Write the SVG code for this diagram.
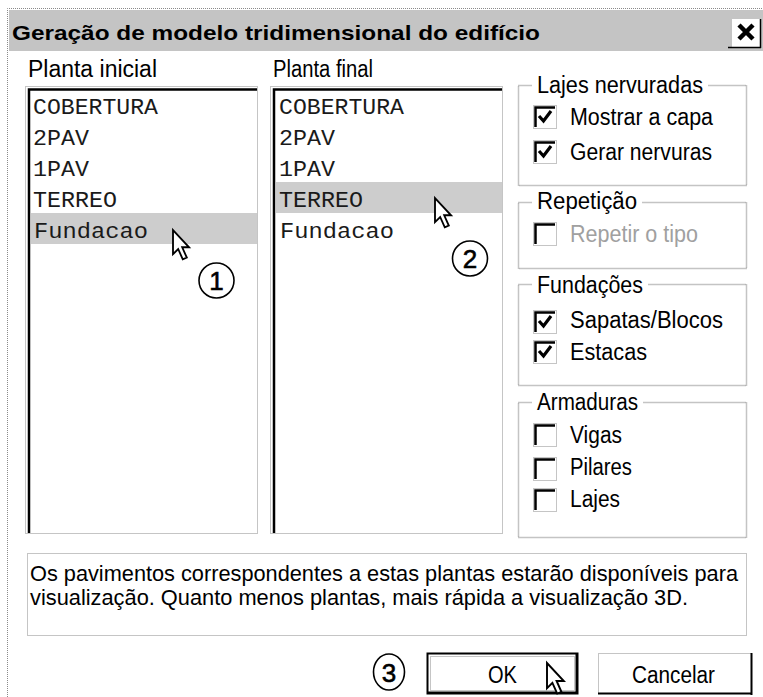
<svg xmlns="http://www.w3.org/2000/svg" width="763" height="697" viewBox="0 0 763 697">
<style>
  .ui { font-family: "Liberation Sans", Arial, sans-serif; font-size: 23px; fill: #000; }
  .desc { font-family: "Liberation Sans", Arial, sans-serif; font-size: 22px; fill: #000; }
  .title { font-family: "Liberation Sans", Arial, sans-serif; font-size: 21px; font-weight: bold; fill: #000; }
  .mono { font-family: "Liberation Mono", "Courier New", monospace; font-size: 22px; fill: #1a1a1a; }
  .dis { fill: #a0a0a0; }
  .dot { fill: none; stroke: #8a8a8a; stroke-width: 1; stroke-dasharray: 1 1; }
  .etch { fill: none; stroke: #8a8a8a; stroke-width: 1.5; stroke-dasharray: 1 1; }
  .sunk { stroke: #000; stroke-width: 2.5; fill: none; }
  .cb { fill: #fff; stroke: #8a8a8a; stroke-width: 1; stroke-dasharray: 1 1; }
  .chk { fill: none; stroke: #000; stroke-width: 3.2; stroke-linejoin: miter; }
  .sel { fill: #cdcdcd; }
  .circ { fill: #fff; stroke: #000; stroke-width: 1.6; }
  .num { font-family: "Liberation Sans", Arial, sans-serif; font-size: 26px; fill: #000; stroke: #000; stroke-width: 0.6; text-anchor: middle; }
  .cur { fill: #fff; stroke: #000; stroke-width: 1.6; stroke-linejoin: miter; }
</style>
<defs>
  <path id="arrow" d="M0,0 L0,21 L4.5,16.5 L8.5,25.5 L12,24 L8,15 L14,15 Z"/>
  <g id="box">
    <rect class="cb" x="0.5" y="0.5" width="23" height="23"/>
    <path class="sunk" d="M2.5,22 L2.5,2.5 L22,2.5"/>
  </g>
</defs>
<rect x="0" y="0" width="763" height="697" fill="#fff"/>

<g id="window">
  <path class="dot" d="M7.5,697 L7.5,8.5 L763,8.5"/>
  <rect x="9" y="10" width="754" height="41" fill="#c4c4c4"/>
  <text class="title" x="12" y="40" textLength="528" lengthAdjust="spacingAndGlyphs">Geração de modelo tridimensional do edifício</text>
</g>

<g id="close-button">
  <rect x="732" y="19" width="28" height="28" fill="#fff"/>
  <path d="M728,47.5 L761,47.5 M760.5,19 L760.5,48" stroke="#000" stroke-width="1.5" fill="none"/>
  <path d="M739,25 L753,39 M753,25 L739,39" stroke="#000" stroke-width="4.5" fill="none"/>
</g>

<g id="list-inicial">
  <text class="ui" x="28" y="77" textLength="129" lengthAdjust="spacingAndGlyphs">Planta inicial</text>
  <rect x="27" y="88" width="230" height="445" fill="#fff"/>
  <rect class="dot" x="25.5" y="86.5" width="232" height="447"/>
  <path class="sunk" d="M29,533 L29,89.5 L257,89.5"/>
  <rect class="sel" x="31" y="213" width="226" height="31"/>
  <text class="mono" x="33" y="114" textLength="125" lengthAdjust="spacingAndGlyphs">COBERTURA</text>
  <text class="mono" x="33" y="145" textLength="56" lengthAdjust="spacingAndGlyphs">2PAV</text>
  <text class="mono" x="33" y="176" textLength="56" lengthAdjust="spacingAndGlyphs">1PAV</text>
  <text class="mono" x="33" y="207" textLength="84" lengthAdjust="spacingAndGlyphs">TERREO</text>
  <text class="mono" x="34" y="238" textLength="114" lengthAdjust="spacingAndGlyphs">Fundacao</text>
</g>

<g id="list-final">
  <text class="ui" x="273" y="77" textLength="100" lengthAdjust="spacingAndGlyphs">Planta final</text>
  <rect x="272" y="88" width="230" height="445" fill="#fff"/>
  <rect class="dot" x="270.5" y="86.5" width="232" height="447"/>
  <path class="sunk" d="M274,533 L274,89.5 L502,89.5"/>
  <rect class="sel" x="276" y="182" width="226" height="31"/>
  <text class="mono" x="279" y="114" textLength="125" lengthAdjust="spacingAndGlyphs">COBERTURA</text>
  <text class="mono" x="279" y="145" textLength="56" lengthAdjust="spacingAndGlyphs">2PAV</text>
  <text class="mono" x="279" y="176" textLength="56" lengthAdjust="spacingAndGlyphs">1PAV</text>
  <text class="mono" x="279" y="207" textLength="84" lengthAdjust="spacingAndGlyphs">TERREO</text>
  <text class="mono" x="280" y="238" textLength="114" lengthAdjust="spacingAndGlyphs">Fundacao</text>
</g>

<g id="group-lajes">
  <rect class="etch" x="518.5" y="85.5" width="228" height="100"/>
  <rect x="532" y="72" width="176" height="26" fill="#fff"/>
  <text class="ui" x="537" y="93" textLength="166" lengthAdjust="spacingAndGlyphs">Lajes nervuradas</text>
  <use href="#box" x="533" y="105"/>
  <path class="chk" d="M539,116 L543.5,121 L551,111"/>
  <text class="ui" x="570" y="125" textLength="143" lengthAdjust="spacingAndGlyphs">Mostrar a capa</text>
  <use href="#box" x="533" y="140"/>
  <path class="chk" d="M539,151 L543.5,156 L551,146"/>
  <text class="ui" x="570" y="160" textLength="142" lengthAdjust="spacingAndGlyphs">Gerar nervuras</text>
</g>

<g id="group-repeticao">
  <rect class="etch" x="518.5" y="202.5" width="228" height="66"/>
  <rect x="532" y="190" width="110" height="24" fill="#fff"/>
  <text class="ui" x="537" y="209" textLength="100" lengthAdjust="spacingAndGlyphs">Repetição</text>
  <use href="#box" x="533" y="222"/>
  <text class="ui dis" x="570" y="242" textLength="128" lengthAdjust="spacingAndGlyphs">Repetir o tipo</text>
</g>

<g id="group-fundacoes">
  <rect class="etch" x="518.5" y="284.5" width="228" height="101"/>
  <rect x="532" y="272" width="116" height="26" fill="#fff"/>
  <text class="ui" x="537" y="293" textLength="106" lengthAdjust="spacingAndGlyphs">Fundações</text>
  <use href="#box" x="533" y="310"/>
  <path class="chk" d="M539,321 L543.5,326 L551,316"/>
  <text class="ui" x="570" y="328" textLength="153" lengthAdjust="spacingAndGlyphs">Sapatas/Blocos</text>
  <use href="#box" x="533" y="340"/>
  <path class="chk" d="M539,351 L543.5,356 L551,346"/>
  <text class="ui" x="570" y="360" textLength="77" lengthAdjust="spacingAndGlyphs">Estacas</text>
</g>

<g id="group-armaduras">
  <rect class="etch" x="518.5" y="402.5" width="228" height="135"/>
  <rect x="532" y="390" width="111" height="24" fill="#fff"/>
  <text class="ui" x="537" y="410" textLength="101" lengthAdjust="spacingAndGlyphs">Armaduras</text>
  <use href="#box" x="533" y="423"/>
  <text class="ui" x="570" y="443" textLength="52" lengthAdjust="spacingAndGlyphs">Vigas</text>
  <use href="#box" x="533" y="457"/>
  <text class="ui" x="570" y="475" textLength="62" lengthAdjust="spacingAndGlyphs">Pilares</text>
  <use href="#box" x="533" y="488"/>
  <text class="ui" x="570" y="507" textLength="50" lengthAdjust="spacingAndGlyphs">Lajes</text>
</g>

<g id="description">
  <rect class="dot" x="27.5" y="553.5" width="719" height="82"/>
  <text class="desc" x="30" y="581" textLength="708" lengthAdjust="spacingAndGlyphs">Os pavimentos correspondentes a estas plantas estarão disponíveis para</text>
  <text class="desc" x="30" y="605" textLength="658" lengthAdjust="spacingAndGlyphs">visualização. Quanto menos plantas, mais rápida a visualização 3D.</text>
</g>

<g id="button-ok">
  <rect x="427.5" y="653.5" width="150" height="40" fill="#fff" stroke="#000" stroke-width="2"/>
  <rect class="dot" x="430.5" y="656.5" width="144" height="34"/>
  <path d="M576.5,654 L576.5,694 M428,692.5 L578,692.5" stroke="#000" stroke-width="2"/>
  <text class="ui" x="488" y="683" textLength="29" lengthAdjust="spacingAndGlyphs">OK</text>
</g>

<g id="button-cancelar">
  <rect class="dot" x="598.5" y="653.5" width="153" height="40" fill="#fff"/>
  <path d="M751.5,653 L751.5,695 M598,693.5 L752,693.5" stroke="#000" stroke-width="2"/>
  <text class="ui" x="632" y="683" textLength="83" lengthAdjust="spacingAndGlyphs">Cancelar</text>
</g>

<g id="callouts">
  <circle class="circ" cx="216.5" cy="280.5" r="17.5"/>
  <text class="num" x="216.5" y="290">1</text>
  <circle class="circ" cx="470" cy="258.5" r="17.5"/>
  <text class="num" x="470" y="268">2</text>
  <ellipse class="circ" cx="389" cy="672" rx="15.5" ry="18"/>
  <text class="num" x="389" y="682">3</text>
</g>

<g id="cursors">
  <use href="#arrow" class="cur" transform="translate(173,230) scale(1.15)"/>
  <use href="#arrow" class="cur" transform="translate(435,198) scale(1.15)"/>
  <use href="#arrow" class="cur" transform="translate(547,663) scale(1.2)"/>
</g>
</svg>
